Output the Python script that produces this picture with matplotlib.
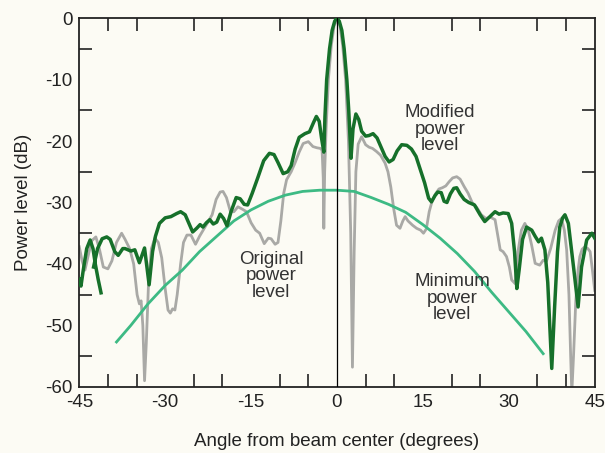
import numpy as np
import matplotlib
matplotlib.use("Agg")
import matplotlib.pyplot as plt

plt.rcParams["font.family"] = ["Liberation Sans", "DejaVu Sans"]
plt.rcParams["axes.unicode_minus"] = False

# modified power level (nan splits the little fragment at the far left)
mod_x = [-45, -44.7, -44.3, -43.7, -43.1, -42.6, -42.2, -41.7, -41.2, np.nan,
         -42.5, -41.8, -41.0, -40.2, -39.6, -38.8, -38.2, -37.4, -37.0, -36.0, -35.3, -34.5, -33.6,
         -32.8, -32.2, -31.7, -31.0, -30.0, -29.0, -28.0, -27.3, -26.5, -25.8, -25.2, -24.5,
         -23.9, -23.4, -22.8, -22.2, -21.6, -21.0, -20.4, -19.8, -19.2, -18.5, -17.6, -16.9,
         -16.2, -15.6, -14.8, -13.8, -12.8, -11.8, -11.0, -10.3, -9.4, -8.6, -8.0, -7.3,
         -6.6, -5.6, -4.8, -4.1, -3.6, -3.1, -2.7, -2.3, -2.1, -1.8, -1.3, -0.85, -0.4, 0,
         0.4, 0.85, 1.25, 1.72, 2.05, 2.3, 2.45, 2.8, 3.3, 3.8, 4.3, 5.0, 5.6, 6.3, 7.0, 7.7,
         8.4, 9.1, 9.8, 10.5, 11.3, 12.2, 13.0, 13.8, 14.6, 15.3, 16.0, 16.5, 17.1, 17.6,
         18.2, 18.7, 19.2, 19.8, 20.4, 20.9, 21.5, 22.2, 23.0, 24.0, 25.0, 25.8, 26.7, 27.6,
         28.3, 29.0, 29.9, 30.5, 31.0, 31.4, 31.8, 32.4, 33.1, 34.0, 34.6, 35.2, 35.7, 36.3,
         36.8, 37.5, 38.0, 38.5, 38.9, 39.4, 39.8, 40.4, 41.3, 42.1, 42.7, 43.6, 44.5, 45.0]
mod_y = [-42.5, -43.6, -41, -37.5, -36.1, -37.5, -40, -42.5, -44.7, np.nan,
         -40.5, -37.5, -35.9, -35.6, -36, -38, -38.6, -37.5, -37.5, -37.9, -37.7, -39.8, -37.4,
         -43.4, -38, -35.5, -33.4, -32.5, -32.3, -31.8, -31.5, -32, -33.5, -34.8, -34.2,
         -33.6, -34, -33.3, -32.8, -33.5, -33.2, -31.9, -32.6, -33.8, -31.5, -29.2, -29.4,
         -30.3, -30.4, -28.5, -25.9, -23.2, -22, -22.2, -23.5, -25.3, -25, -24, -21.3,
         -19.4, -18.8, -18.5, -17, -16, -16.8, -19.5, -21.8, -16, -10, -5, -2, -0.5, 0,
         -0.5, -2, -5, -10, -15, -20, -22.8, -18, -15.6, -16.5, -18.4, -19.2, -19.1, -18.8, -19.5, -21,
         -22.5, -23.4, -23, -21.6, -20.6, -20.7, -21.3, -22.5, -24.8, -26.8, -29.3, -29.9, -28.9, -28.3,
         -28.4, -29.8, -30, -28.6, -27.7, -27.6, -28.6, -29.5, -30, -30.4, -32, -33.1, -32.3, -31.5,
         -31.9, -31.7, -31.8, -33.4, -38, -44, -41, -36, -34, -34.5, -35.5, -36.4, -35.8, -37.7,
         -43, -57, -47, -38, -34, -32.5, -32, -33.4, -40.5, -47, -40.5, -36.1, -35, -35.8]

# original power level
orig_x = [-45, -44.5, -44.0, -43.4, -42.8, -42.1, -41.5, -40.8, -40.0, -39.3, -38.5, -37.6,
          -37.0, -36.2, -35.5, -34.9, -34.5, -34.2, -33.9, -33.6, -33.3, -32.9, -32.4, -31.8,
          -31.2, -30.6, -30.0, -29.5, -29.1, -28.7, -28.3, -27.9, -27.3, -26.8, -26.2, -25.5,
          -24.7, -24.0, -23.3, -22.6, -21.8, -21.1, -20.4, -19.9, -19.3, -18.6, -18.0, -17.3,
          -16.5, -15.8, -15.0, -14.2, -13.5, -12.7, -12.0, -11.5, -10.8, -10.3, -9.8, -9.3,
          -8.8, -8.0, -7.3, -6.6, -5.9, -5.0, -4.2, -3.5, -2.9, -2.6, -2.4, -2.3, -2.15, -1.9,
          -1.5, -1.0, -0.5, 0, 0.5, 1.0, 1.5, 2.0, 2.4, 2.7, 3.0, 3.3, 3.7, 4.3, 5.0, 5.6, 6.2,
          6.9, 7.6, 8.4, 8.9, 9.4, 9.9, 10.4, 11.0, 11.5, 11.9, 12.4, 13.2, 13.9, 14.6, 15.1,
          15.6, 16.1, 16.6, 17.2, 17.8, 18.4, 19.0, 19.6, 20.2, 20.9, 21.5, 22.2, 22.9, 23.6,
          24.4, 25.2, 26.0, 26.8, 27.6, 28.2, 28.5, 29.0, 29.6, 30.1, 30.5, 31.1, 31.6, 32.2,
          32.8, 33.4, 34.0, 34.6, 35.4, 36.0, 36.6, 37.3, 38.1, 38.7, 39.2, 39.7, 40.1, 40.5,
          40.8, 41.0, 41.3, 41.7, 42.1, 42.4, 42.8, 43.3, 43.8, 44.2, 44.6, 45.0]
orig_y = [-37.2, -39.5, -41, -38.5, -36.2, -35.6, -37.5, -40.5, -40.8, -39.5, -36.5, -35,
          -36, -37.5, -40, -45, -46.5, -46, -50, -59, -53, -43, -37.5, -35.8,
          -36.5, -39, -44, -47.5, -48, -47.3, -47.5, -45, -40, -36.5, -35.3, -35.3,
          -36.8, -35.5, -34.4, -33.3, -32, -29.5, -28.3, -28.2, -29.2, -31.5, -31.5, -30.7,
          -31.1, -31.5, -33.3, -34.5, -35, -36.7, -35.8, -35.9, -36.8, -36.5, -33, -28.5,
          -26.3, -25, -23.5, -21.8, -20.4, -20.1, -20.9, -21.1, -21.2, -21.5, -26, -34.2, -25, -18,
          -10, -4.5, -1.2, -0.3, -1.2, -4.5, -10, -20, -35, -56.8, -38, -25, -20.5, -19.3, -20.6, -21, -21.2,
          -21.7, -22.3, -23.6, -25, -27.5, -31, -33.7, -34.2, -33, -32.3, -33, -33.7, -34.2, -34.5, -35,
          -34.3, -31.5, -29.8, -28.6, -27.8, -27.6, -27.3, -26.6, -26, -25.8, -26.2, -27.4, -28.5, -30,
          -30.8, -32, -32.6, -32.4, -32.8, -36, -37.7, -38, -38.8, -40.5, -42.6, -43.2, -38, -34.5,
          -33.4, -34.5, -37, -39.9, -40.2, -39.4, -39.5, -37.5, -34.5, -33, -32.6, -34.5, -37.7, -45,
          -55, -61, -55, -45.9, -41, -38.8, -37.6, -37.2, -37.5, -38, -41, -44.3]

# minimum power level
min_x = [-38.5, -36, -33, -30, -27, -24, -21, -18, -15, -12, -9, -6, -3, 0,
         3, 6, 9, 12, 15, 18, 21, 24, 27, 30, 33, 36]
min_y = [-52.7, -50, -46.5, -43.5, -41, -38, -35.5, -33, -31.2, -29.8, -28.8, -28.2, -28, -28,
         -28.2, -29.2, -30.3, -31.6, -33.6, -35.8, -38.3, -41.2, -44.6, -47.8, -51, -54.6]

bg = "#fcfbf4"
fig = plt.figure(figsize=(6.05, 4.53), dpi=100, facecolor=bg)
ax = fig.add_axes([0.131, 0.146, 0.852, 0.814], facecolor=bg)

ax.plot(orig_x, orig_y, color="#a9a9a6", lw=2.0, zorder=2)
ax.plot(min_x, min_y, color="#3dba84", lw=2.0, zorder=3)
ax.plot(mod_x, mod_y, color="#16702a", lw=2.5, zorder=4)
ax.plot([0, 0], [-60, 0], color="black", lw=0.9, zorder=5)

ax.text(18, -18.1, "Modified\npower\nlevel", ha="center", va="center", fontsize=13.5,
        color="#333333", linespacing=0.97)
ax.text(-11.5, -41.9, "Original\npower\nlevel", ha="center", va="center", fontsize=13.5,
        color="#333333", linespacing=0.97)
ax.text(20.1, -45.6, "Minimum\npower\nlevel", ha="center", va="center", fontsize=13.5,
        color="#333333", linespacing=0.97)

ax.set_xlim(-45, 45)
ax.set_ylim(-60, 0)
ax.set_xticks([-45, -30, -15, 0, 15, 30, 45])
ax.set_xticks(np.arange(-45, 46, 5), minor=True)
ax.set_yticks(np.arange(-60, 1, 10))
ax.set_yticks(np.arange(-60, 1, 5), minor=True)
ax.tick_params(which="both", direction="in", top=True, right=True, length=9.5, width=1.2,
               labelsize=13.5, color="#222222", labelcolor="#222222")
ax.tick_params(which="major", length=0, pad=5)
for s in ax.spines.values():
    s.set_linewidth(1.3)
    s.set_color("#222222")

ax.set_xlabel("Angle from beam center (degrees)", fontsize=13.5, labelpad=16, color="#222222")
ax.set_ylabel("Power level (dB)", fontsize=13.5, labelpad=9, color="#222222")

fig.savefig("out.png", dpi=100, facecolor=bg)
